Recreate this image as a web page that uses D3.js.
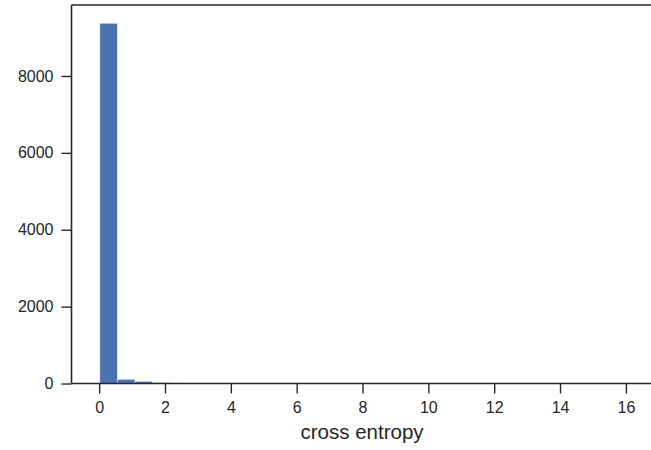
<!DOCTYPE html>
<html>
<head>
<meta charset="utf-8">
<script src="https://cdn.jsdelivr.net/npm/d3@7/dist/d3.min.js"></script>
<style>
  html, body { margin: 0; padding: 0; background: #ffffff; }
  svg { display: block; }
  text { font-family: "Liberation Sans", Arial, sans-serif; fill: #262626; }
</style>
</head>
<body>
<div id="chart"></div>
<script>
// Histogram of per-sample cross entropy: bin edges start at binStart, each binWidth wide
const binStart = 0.02;
const binWidth = 0.535;
const binCounts = [9370, 110, 55, 24, 15, 10, 8, 6, 5, 4, 3, 3, 2, 2, 2, 1,
                   1, 1, 1, 1, 0, 1, 0, 1, 0, 0, 1, 0, 0, 1];
const xTicks = [0, 2, 4, 6, 8, 10, 12, 14, 16];
const yTicks = [0, 2000, 4000, 6000, 8000];
const xLabel = "cross entropy";

const W = 651, H = 450;
const plot = { left: 71.5, top: 5, bottom: 383.5 };
const xLimits = [-0.84, 16.81];
const yLimits = [0, 9846];
const pxPerUnit = 32.92;

const bins = binCounts.map((c, i) => ({
  x0: binStart + i * binWidth,
  x1: binStart + (i + 1) * binWidth,
  count: c
}));

const x = d3.scaleLinear()
  .domain(xLimits)
  .range([plot.left, plot.left + (xLimits[1] - xLimits[0]) * pxPerUnit]);
const y = d3.scaleLinear()
  .domain(yLimits)
  .range([plot.bottom, plot.top]);

const svg = d3.select("#chart").append("svg")
  .attr("width", W).attr("height", H);

svg.append("rect").attr("width", W).attr("height", H).attr("fill", "#ffffff");

// bars
svg.append("g").selectAll("rect")
  .data(bins)
  .join("rect")
  .attr("x", d => x(d.x0))
  .attr("width", d => x(d.x1) - x(d.x0))
  .attr("y", d => y(d.count))
  .attr("height", d => y(0) - y(d.count))
  .attr("fill", "#4C72B0")
  .attr("stroke", "#ffffff")
  .attr("stroke-opacity", 0.6)
  .attr("stroke-width", 0.8);

// axes
const tickColor = "#262626";
const xAxis = svg.append("g")
  .attr("transform", `translate(0,${plot.bottom})`)
  .call(d3.axisBottom(x).tickValues(xTicks).tickFormat(d3.format("d"))
    .tickSize(10).tickPadding(8));
const yAxis = svg.append("g")
  .attr("transform", `translate(${plot.left},0)`)
  .call(d3.axisLeft(y).tickValues(yTicks).tickFormat(d3.format("d"))
    .tickSize(10).tickPadding(8));

[xAxis, yAxis].forEach(a => {
  a.select(".domain").remove();
  a.selectAll(".tick line").attr("stroke", tickColor).attr("stroke-width", 1.4);
  a.selectAll(".tick text")
    .style("font-family", '"Liberation Sans", Arial, sans-serif')
    .style("font-size", "16px")
    .attr("fill", tickColor);
});

// spines (right spine sits just past the visible area)
const spines = svg.append("g")
  .attr("fill", "none").attr("stroke", tickColor).attr("stroke-width", 1.6);
spines.append("line")
  .attr("x1", x(xLimits[0])).attr("x2", x(xLimits[1]))
  .attr("y1", y(yLimits[0])).attr("y2", y(yLimits[0]));
spines.append("line")
  .attr("x1", x(xLimits[0])).attr("x2", x(xLimits[1]))
  .attr("y1", y(yLimits[1])).attr("y2", y(yLimits[1]));
spines.append("line")
  .attr("x1", x(xLimits[0])).attr("x2", x(xLimits[0]))
  .attr("y1", y(yLimits[0])).attr("y2", y(yLimits[1]));
spines.append("line")
  .attr("x1", x(xLimits[1])).attr("x2", x(xLimits[1]))
  .attr("y1", y(yLimits[0])).attr("y2", y(yLimits[1]));

// x label, centred on the full axes width
svg.append("text")
  .attr("x", (x(xLimits[0]) + x(xLimits[1])) / 2)
  .attr("y", 439)
  .attr("text-anchor", "middle")
  .style("font-size", "20.5px")
  .text(xLabel);
</script>
</body>
</html>
